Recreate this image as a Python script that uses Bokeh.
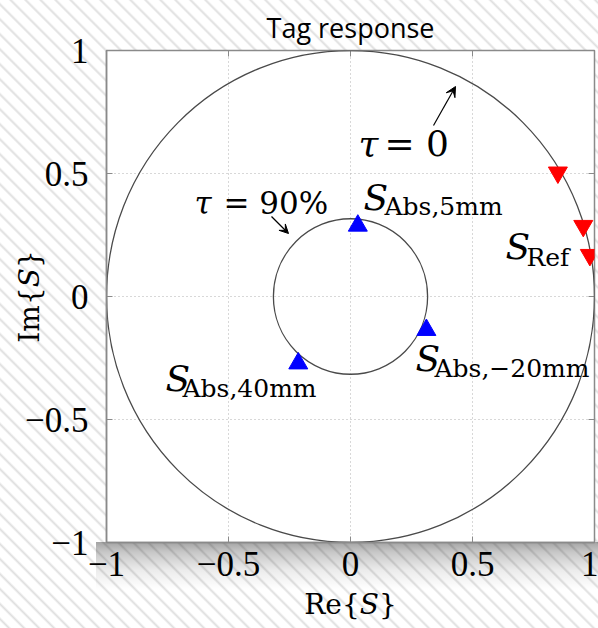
import math
from bokeh.plotting import figure
from bokeh.models import Range1d, FixedTicker, Label, Arrow, VeeHead
from bokeh.embed import file_html
from bokeh.resources import INLINE

# ---------------- data ----------------
title_text = "Tag response"
tick_values = [-1, -0.5, 0, 0.5, 1]
tick_labels = ["\u22121", "\u22120.5", "0", "0.5", "1"]
x_label = "Re{\U0001D446}"
y_label = "Im{\U0001D446}"

# reflection of the reference (red, downward triangles)
ref_re = [0.850, 0.954, 0.981]
ref_im = [0.504, 0.287, 0.169]
ref_name = "Ref"

# reflection with absorber (blue, upward triangles)
abs_re = [0.030, 0.311, -0.214]
abs_im = [0.288, -0.136, -0.272]
abs_names = ["Abs,5mm", "Abs,\u221220mm", "Abs,40mm"]

# constant-tau circles
tau_radii = [1.0, 0.316]
tau_names = ["0", "90%"]

# ---------------- layout ----------------
W, H = 598, 628
L, R, T, B = 106, 4, 50, 86
FW, FH = W - L - R, H - T - B
GREY = "#8a8a8a"
MATH = "DejaVu Serif"
TICKFONT = "Liberation Serif"


def X(px):
    return -1 + 2 * (px - L) / FW


def Y(py):
    return 1 - 2 * (py - T) / FH


stripes = ("repeating-linear-gradient(45deg, #ffffff 0px, #ffffff 4.5px, "
           "#dedede 6.3px, #ffffff 8.3px, #ffffff 10.6px)")
shadow = ("linear-gradient(to bottom, rgba(0,0,0,0.36) 0px, rgba(0,0,0,0.22) 10px, "
          "rgba(0,0,0,0.08) 28px, rgba(0,0,0,0) 48px) 96px 542px / 502px 48px no-repeat")

p = figure(width=W, height=H, x_range=Range1d(-1, 1), y_range=Range1d(-1, 1),
           output_backend="svg", toolbar_location=None,
           min_border_left=L, min_border_right=R, min_border_top=T, min_border_bottom=B,
           title=title_text, styles={"background": shadow + ", " + stripes})
p.border_fill_color = None
p.background_fill_color = "white"
p.outline_line_color = GREY
p.outline_line_width = 1.5

p.title.align = "center"
p.title.text_font = "Open Sans"
p.title.text_font_size = "27px"
p.title.text_font_style = "normal"
p.title.text_color = "black"
p.title.standoff = 9

for ax in [p.xaxis[0], p.yaxis[0]]:
    ax.ticker = FixedTicker(ticks=tick_values)
    ax.major_label_overrides = dict(zip(tick_values, tick_labels))
    ax.major_label_text_font = TICKFONT
    ax.major_label_text_font_size = "35px"
    ax.major_label_text_color = "black"
    ax.major_tick_in = 6
    ax.major_tick_out = 0
    ax.major_tick_line_color = GREY
    ax.minor_tick_line_color = None
    ax.axis_line_color = GREY
    ax.axis_line_width = 1.5
    ax.axis_label_text_font = MATH
    ax.axis_label_text_font_size = "28px"
    ax.axis_label_text_font_style = "normal"
    ax.axis_label_text_color = "black"
p.xaxis[0].major_label_standoff = 9
p.xaxis[0].axis_label = x_label
p.xaxis[0].axis_label_standoff = 9
p.yaxis[0].major_label_standoff = 18
p.yaxis[0].axis_label = y_label
p.yaxis[0].axis_label_standoff = -24

p.grid.ticker = FixedTicker(ticks=tick_values)
p.grid.grid_line_color = "#b0b0b0"
p.grid.grid_line_dash = "1 3"
p.grid.grid_line_width = 1

# inward ticks on the top and right edges of the box
tx = 2 * 6 / FW
ty = 2 * 6 / FH
p.segment(x0=tick_values, y0=[1] * len(tick_values), x1=tick_values,
          y1=[1 - ty] * len(tick_values), line_color=GREY, line_width=1)
p.segment(x0=[1] * len(tick_values), y0=tick_values, x1=[1 - tx] * len(tick_values),
          y1=tick_values, line_color=GREY, line_width=1)

# constant-tau circles
p.ellipse(x=[0] * len(tau_radii), y=[0] * len(tau_radii),
          width=[2 * r for r in tau_radii], height=[2 * r for r in tau_radii],
          fill_color=None, line_color="#4a4a4a", line_width=1.3)

# measured responses
p.scatter(abs_re, abs_im, marker="triangle", size=19,
          fill_color="#0000ff", line_color="#0000ff")
p.scatter(ref_re, ref_im, marker="inverted_triangle", size=19,
          fill_color="#ff0000", line_color="#ff0000")


def lab(text, px, py, size, italic=False, font=MATH):
    py = py - 0.28 * size
    p.add_layout(Label(x=X(px), y=Y(py), text=text, text_font=font,
                       text_font_size=f"{size}px",
                       text_font_style="italic" if italic else "normal",
                       text_color="black", text_align="left",
                       text_baseline="alphabetic"))


# tau annotations
lab("\u03c4", 358, 153, 36, italic=True)
lab("= " + tau_names[0], 384, 153, 36)
lab("\u03c4", 194, 211, 31, italic=True)
lab("= " + tau_names[1], 223, 211, 31)
p.add_layout(Arrow(end=VeeHead(size=10, fill_color="black", line_color="black"),
                   x_start=X(433), y_start=Y(125), x_end=X(455), y_end=Y(86),
                   line_color="black", line_width=1.2))
p.add_layout(Arrow(end=VeeHead(size=9, fill_color="black", line_color="black"),
                   x_start=X(271), y_start=Y(216), x_end=X(288), y_end=Y(233),
                   line_color="black", line_width=1.2))

# S labels
s_pos = [(363, 207, 384, 213), (415, 368, 434, 375), (165, 388, 182, 395)]
for name, (sx, sy, bx, by) in zip(abs_names, s_pos):
    lab("S", sx, sy, 36, italic=True)
    lab(name, bx, by, 25)
lab("S", 505, 256, 36, italic=True)
lab(ref_name, 526, 264, 25)

open("out.html", "w").write(file_html(p, INLINE))
